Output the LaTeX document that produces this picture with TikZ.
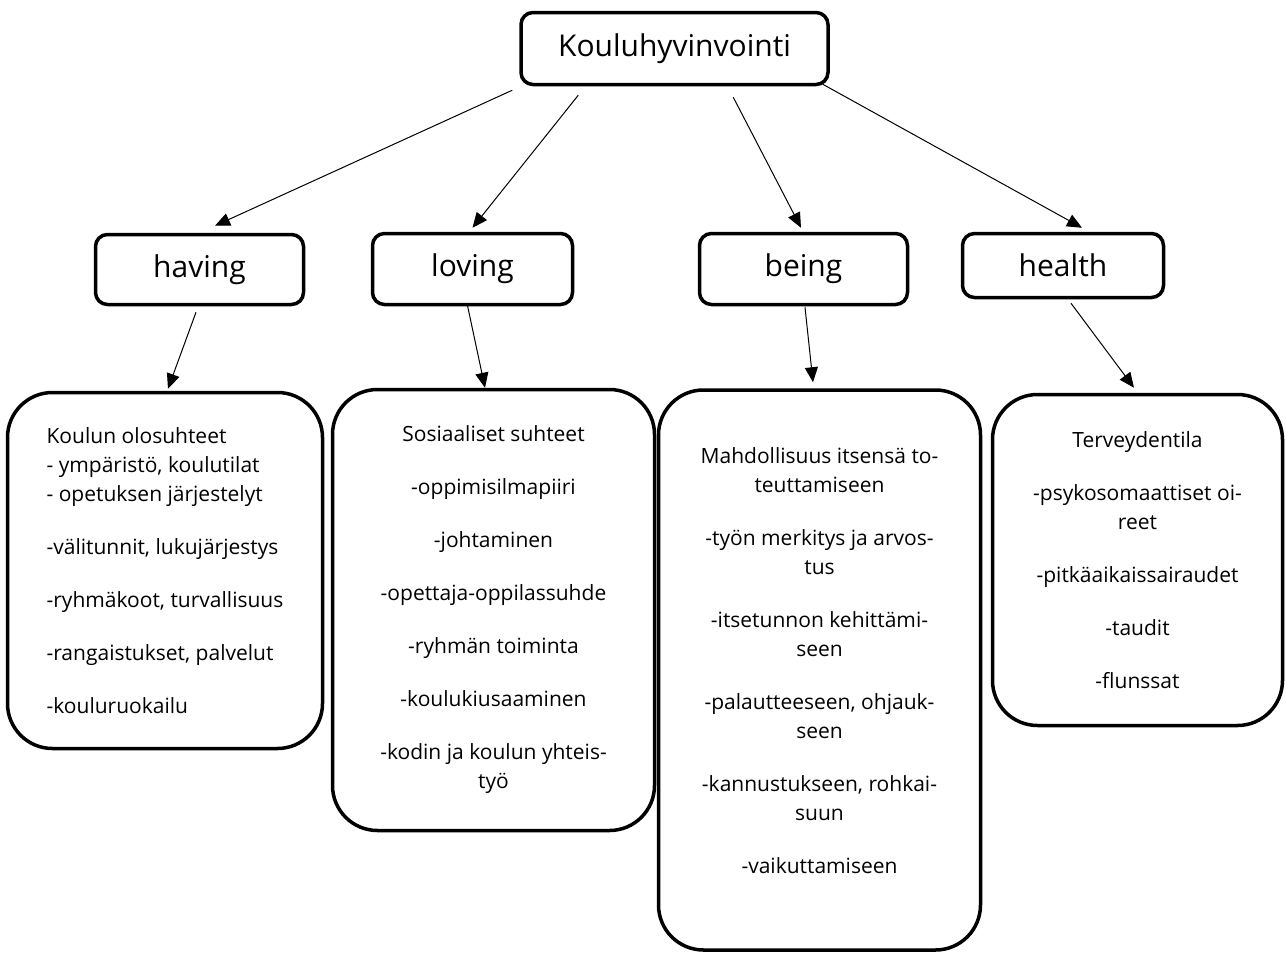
\documentclass[tikz,border=0pt]{standalone}
\usepackage{fontspec}
\setmainfont{Open Sans}
\usetikzlibrary{arrows.meta}
\tikzset{
  hdr/.style={draw, line width=3.5pt, rounded corners=12pt, inner sep=0pt, align=center,
    font=\fontsize{30}{36}\selectfont},
  content/.style={draw, line width=3.5pt, rounded corners=45pt, inner sep=0pt, align=center,
    font=\fontsize{21}{29}\selectfont},
  bodytext/.style={inner sep=0pt, align=center, font=\fontsize{21}{29}\selectfont},
  arr/.style={line width=1pt, -{Triangle[length=15pt,width=13pt]}}
}
\begin{document}
\begin{tikzpicture}[x=1pt,y=-1pt]
\useasboundingbox (0,0) rectangle (1286,954);
\fill[white] (0,0) rectangle (1286,954);

\node[hdr, minimum width=307pt, minimum height=72pt] (top) at (674.5,48.5) {Kouluhyvinvointi};
\node[hdr, minimum width=208pt, minimum height=70pt] (having) at (199.5,269.5) {having};
\node[hdr, minimum width=200pt, minimum height=71pt] (loving) at (472.5,269) {loving};
\node[hdr, minimum width=208pt, minimum height=71pt] (being) at (803.5,269) {being};
\node[hdr, minimum width=201pt, minimum height=64pt] (health) at (1063,265.5) {health};

\node[content, align=left, minimum width=315pt, minimum height=356pt] (c1) at (165,570.5)
  {Koulun olosuhteet\\- ympäristö, koulutilat\\- opetuksen järjestelyt\\[24pt]-välitunnit, lukujärjestys\\[24pt]-ryhmäkoot, turvallisuus\\[24pt]-rangaistukset, palvelut\\[24pt]-kouluruokailu};
\node[content, minimum width=322pt, minimum height=441pt] (c2) at (493.5,610)
  {Sosiaaliset suhteet\\[24pt]-oppimisilmapiiri\\[24pt]-johtaminen\\[24pt]-opettaja-oppilassuhde\\[24pt]-ryhmän toiminta\\[24pt]-koulukiusaaminen\\[24pt]-kodin ja koulun yhteis-\\työ};
\node[content, minimum width=322pt, minimum height=560pt] (c3) at (819.5,670) {};
\node[bodytext] (t3) at (819.5,661)
  {Mahdollisuus itsensä to-\\teuttamiseen\\[24pt]-työn merkitys ja arvos-\\tus\\[24pt]-itsetunnon kehittämi-\\seen\\[24pt]-palautteeseen, ohjauk-\\seen\\[24pt]-kannustukseen, rohkai-\\suun\\[24pt]-vaikuttamiseen};
\node[content, minimum width=290pt, minimum height=331pt] (c4) at (1137.5,560)
  {Terveydentila\\[24pt]-psykosomaattiset oi-\\reet\\[24pt]-pitkäaikaissairaudet\\[24pt]-taudit\\[24pt]-flunssat};

\draw[arr] ([shift={(-7,4)}]top.south west) -- ([shift={(15.5,-7)}]having.north);
\draw[arr] ([shift={(59,9)}]top.south west) -- ([shift={(0,-4)}]loving.north);
\draw[arr] ([shift={(214,11)}]top.south west) -- ([shift={(-2.5,-4)}]being.north);
\draw[arr] ([shift={(-7,-2)}]top.south east) -- ([shift={(19,-4)}]health.north);

\draw[arr] ([shift={(-3.5,6)}]having.south) -- ([shift={(3,-2)}]c1.north);
\draw[arr] ([shift={(-5.5,-3)}]loving.south) -- ([shift={(-8.5,0)}]c2.north);
\draw[arr] ([shift={(1.5,1)}]being.south) -- ([shift={(-6.5,-6)}]c3.north);
\draw[arr] ([shift={(8,4)}]health.south) -- ([shift={(-3.5,-5)}]c4.north);
\end{tikzpicture}
\end{document}
